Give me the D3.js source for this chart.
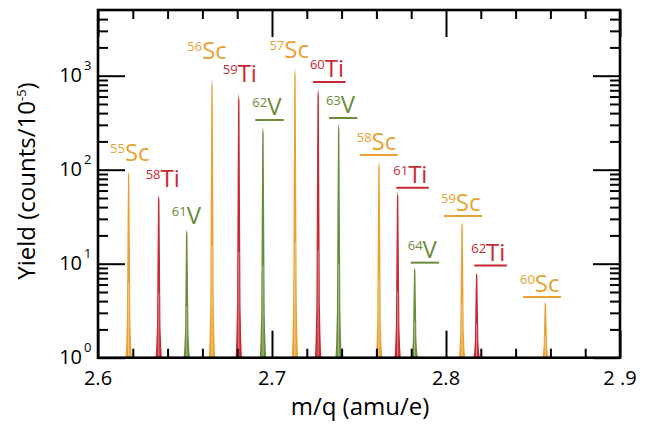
<!DOCTYPE html>
<html>

<head>
  <meta charset="UTF-8">
  <title>yield-mq</title>
  <style type="text/css">
    body {
      margin: 0;
      background: #fff;
    }

    text {
      font-family: "Open Sans", sans-serif;
    }

    .axis path {
      display: none;
    }

    .axis line {
      stroke: #000;
      stroke-width: 2px;
    }

    .frame {
      fill: none;
      stroke: #000;
      stroke-width: 2.6px;
    }
  </style>
</head>

<body>
  <div class="svg-zone"></div>
  <script src="https://cdn.jsdelivr.net/npm/d3@7"></script>
  <script type="text/javascript">
    // isotopes, in order of the peaks from left to right
    var elements = ["Sc", "Ti", "V", "Sc", "Ti", "V", "Sc", "Ti", "V", "Sc", "Ti", "V", "Sc", "Ti", "Sc"];
    var massNumbers = [55, 58, 61, 56, 59, 62, 57, 60, 63, 58, 61, 64, 59, 62, 60];
    var peakMq = [2.6176, 2.6349, 2.6510, 2.6655, 2.6809, 2.6948, 2.7132, 2.7265, 2.7383,
      2.7615, 2.7722, 2.7820, 2.8092, 2.8176, 2.8571];
    var peakYield = [97, 54, 23, 930, 650, 287, 1220, 735, 312, 122, 58, 9.1, 28, 8.0, 3.9];

    // where each label sits (m/q, yield of its baseline) and whether it is underlined
    var labelMq = [2.6069, 2.6274, 2.6424, 2.6513, 2.6717, 2.6887, 2.6985, 2.7218, 2.7310,
      2.7487, 2.7697, 2.7780, 2.7971, 2.8145, 2.8425];
    var labelYield = [124, 66, 26.4, 1494, 851, 382, 1554, 968, 401, 162, 72.8, 11.6, 36.4, 10.8, 5.0];
    var underlined = [false, false, false, false, false, true, false, true, true, true, true, true, true, true, true];

    // peak profile: offset in m/q and fraction of the (log) peak height
    var profile = [[-0.0018, 0], [-0.0014, 0.07], [-0.0010, 0.2], [-0.0007, 0.6], [-0.0004, 0.97], [0, 1],
      [0.0004, 0.97], [0.0007, 0.6], [0.0010, 0.2], [0.0014, 0.07], [0.0018, 0]];
    // light streak inside the lower part of each peak
    var streak = [[0, 0], [0, 0.4]];

    var xMajor = [2.6, 2.7, 2.8, 2.9];
    var xTickLabels = ["2.6", "2.7", "2.8", "2 .9"];
    var xMinor = [2.62, 2.64, 2.66, 2.68, 2.72, 2.74, 2.76, 2.78, 2.82, 2.84, 2.86, 2.88];
    var yMajor = [1, 10, 100, 1000];
    var yExponents = ["0", "1", "2", "3"];
    var yMinor = [2, 3, 4, 5, 6, 7, 8, 9, 20, 30, 40, 50, 60, 70, 80, 90,
      200, 300, 400, 500, 600, 700, 800, 900, 2000, 3000, 4000];

    var colors = { Sc: "#e9a232", Ti: "#c62a33", V: "#6a8c3c" };

    var width = 657,
      height = 424,
      plotL = 98, plotR = 620, plotT = 10, plotB = 357.7,
      x = d3.scaleLinear()
        .domain([2.6, 2.9])
        .range([plotL, plotR]),
      y = d3.scaleLog()
        .domain([1, 5000])
        .range([plotB, plotT]);

    var svg = d3.select(".svg-zone").append("svg")
      .attr("width", width)
      .attr("height", height);

    // peaks
    var area = d3.area()
      .x(function (d) { return x(d[0]); })
      .y0(y(1))
      .y1(function (d) { return y(d[1]); });
    var line = d3.line()
      .x(function (d) { return x(d[0]); })
      .y(function (d) { return y(d[1]); });

    var peaks = svg.append("g").selectAll("g")
      .data(peakMq)
      .enter().append("g");

    peaks.append("path")
      .attr("fill", function (d, i) { return colors[elements[i]]; })
      .attr("d", function (d, i) {
        return area(profile.map(function (p) {
          return [d + p[0], Math.pow(peakYield[i], p[1])];
        }));
      });

    peaks.append("path")
      .attr("fill", "none")
      .attr("stroke", "#fff")
      .attr("stroke-opacity", 0.55)
      .attr("stroke-width", 0.8)
      .attr("d", function (d, i) {
        return line(streak.map(function (p) {
          return [d + p[0], Math.pow(peakYield[i], p[1])];
        }));
      });

    // axes, all ticks point inward
    svg.append("g").attr("class", "axis")
      .attr("transform", "translate(0," + plotB + ")")
      .call(d3.axisBottom(x).tickValues(xMajor).tickSize(-27).tickFormat(""));
    svg.append("g").attr("class", "axis")
      .attr("transform", "translate(0," + plotB + ")")
      .call(d3.axisBottom(x).tickValues(xMinor).tickSize(-9).tickFormat(""));
    svg.append("g").attr("class", "axis")
      .attr("transform", "translate(0," + plotT + ")")
      .call(d3.axisTop(x).tickValues(xMajor).tickSize(-27).tickFormat(""));
    svg.append("g").attr("class", "axis")
      .attr("transform", "translate(0," + plotT + ")")
      .call(d3.axisTop(x).tickValues(xMinor).tickSize(-9).tickFormat(""));

    svg.append("g").attr("class", "axis")
      .attr("transform", "translate(" + plotL + ",0)")
      .call(d3.axisLeft(y).tickValues(yMajor).tickSize(-27).tickFormat(""));
    svg.append("g").attr("class", "axis")
      .attr("transform", "translate(" + plotL + ",0)")
      .call(d3.axisLeft(y).tickValues(yMinor).tickSize(-10).tickFormat(""));
    svg.append("g").attr("class", "axis")
      .attr("transform", "translate(" + plotR + ",0)")
      .call(d3.axisRight(y).tickValues(yMajor).tickSize(-27).tickFormat(""));
    svg.append("g").attr("class", "axis")
      .attr("transform", "translate(" + plotR + ",0)")
      .call(d3.axisRight(y).tickValues(yMinor).tickSize(-10).tickFormat(""));

    svg.append("rect")
      .attr("class", "frame")
      .attr("x", plotL)
      .attr("y", plotT)
      .attr("width", plotR - plotL)
      .attr("height", plotB - plotT);

    // tick labels
    svg.append("g").selectAll("text")
      .data(xMajor)
      .enter().append("text")
      .attr("x", function (d) { return x(d); })
      .attr("y", plotB + 27)
      .attr("text-anchor", "middle")
      .attr("font-size", "20px")
      .text(function (d, i) { return xTickLabels[i]; });

    var yLab = svg.append("g").selectAll("g")
      .data(yMajor)
      .enter().append("g")
      .attr("transform", function (d) { return "translate(0," + y(d) + ")"; });
    yLab.append("text")
      .attr("x", 82)
      .attr("y", 6.5)
      .attr("text-anchor", "end")
      .attr("font-size", "20px")
      .text("10");
    yLab.append("text")
      .attr("x", 84)
      .attr("y", -5.5)
      .attr("font-size", "13px")
      .text(function (d, i) { return yExponents[i]; });

    // axis titles
    svg.append("text")
      .attr("x", 360)
      .attr("y", 415)
      .attr("text-anchor", "middle")
      .attr("font-size", "24px")
      .text("m/q (amu/e)");

    var yTitle = svg.append("text")
      .attr("transform", "translate(35,181) rotate(-90)")
      .attr("text-anchor", "middle")
      .attr("font-size", "24px");
    yTitle.append("tspan").text("Yield (counts/10");
    yTitle.append("tspan").attr("font-size", "13px").attr("dy", -9).text("-5");
    yTitle.append("tspan").attr("dy", 9).text(")");

    // isotope labels
    var labels = svg.append("g").selectAll("g")
      .data(labelMq)
      .enter().append("g")
      .attr("fill", function (d, i) { return colors[elements[i]]; })
      .attr("transform", function (d, i) {
        return "translate(" + x(d) + "," + y(labelYield[i]) + ")";
      });

    labels.append("text")
      .each(function (d, i) {
        var t = d3.select(this);
        t.append("tspan").attr("font-size", "13px").attr("dy", -8).text(massNumbers[i]);
        t.append("tspan").attr("font-size", "24px").attr("dy", 8).text(elements[i]);
      });

    labels.each(function (d, i) {
      if (!underlined[i]) return;
      var g = d3.select(this),
        b = g.select("text").node().getBBox();
      g.append("line")
        .attr("x1", b.x + 3)
        .attr("x2", b.x + b.width + 1.5)
        .attr("y1", 5)
        .attr("y2", 5)
        .attr("stroke", colors[elements[i]])
        .attr("stroke-width", 2);
    });
  </script>

</body>

</html>
